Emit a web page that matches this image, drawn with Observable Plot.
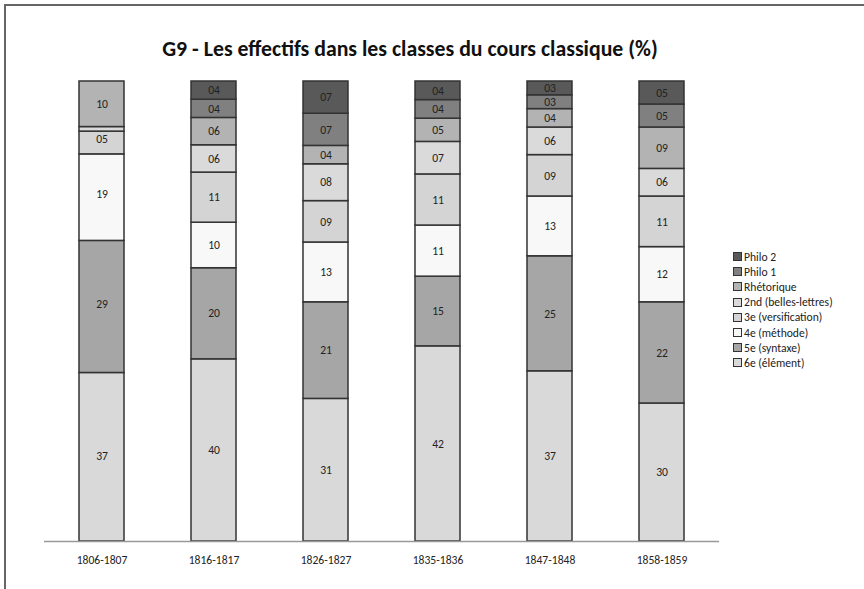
<!DOCTYPE html>
<html>
<head>
<meta charset="utf-8">
<script src="https://cdn.jsdelivr.net/npm/d3@7"></script>
<script src="https://cdn.jsdelivr.net/npm/@observablehq/plot@0.6"></script>
<style>
  html, body { margin: 0; padding: 0; background: #fff; }
  #wrap { position: relative; width: 864px; height: 589px; overflow: hidden; font-family: Carlito, Calibri, "Liberation Sans Narrow", Lato, sans-serif; }
  #frame { position: absolute; left: 4px; top: 4px; right: -10px; bottom: -10px; border-left: 2px solid #666; border-top: 2px solid #666; }
  #title { position: absolute; left: 0; width: 820px; top: 35px; text-align: center; font-weight: bold; font-size: 21.8px; color: #111; }
  #chart { position: absolute; left: 0; top: 0; }
  #legend { position: absolute; left: 733px; top: 249px; font-size: 11.6px; color: #222; }
  .item { height: 15.2px; display: flex; align-items: center; }
  .sw { width: 7px; height: 7px; border: 1px solid #333; margin-right: 2px; }
</style>
</head>
<body>
<div id="wrap">
  <div id="frame"></div>
  <div id="title">G9 - Les effectifs dans les classes du cours classique (%)</div>
  <div id="chart"></div>
  <div id="legend"></div>
</div>
<script>
const years = ["1806-1807", "1816-1817", "1826-1827", "1835-1836", "1847-1848", "1858-1859"];
const classes = ["6e (élément)", "5e (syntaxe)", "4e (méthode)", "3e (versification)", "2nd (belles-lettres)", "Rhétorique", "Philo 1", "Philo 2"];
const colors = ["#d9d9d9", "#a6a6a6", "#f8f8f8", "#d4d4d4", "#dadada", "#b3b3b3", "#808080", "#595959"];

const v6e     = [37, 40, 31, 42, 37, 30];
const v5e     = [29, 20, 21, 15, 25, 22];
const v4e     = [19, 10, 13, 11, 13, 12];
const v3e     = [5, 11, 9, 11, 9, 11];
const v2nd    = [1, 6, 8, 7, 6, 6];
const vRhet   = [10, 6, 4, 5, 4, 9];
const vPhilo1 = [0, 4, 7, 4, 3, 5];
const vPhilo2 = [0, 4, 7, 4, 3, 5];

const series = [v6e, v5e, v4e, v3e, v2nd, vRhet, vPhilo1, vPhilo2];
const data = [];
classes.forEach((c, i) => {
  years.forEach((y, j) => {
    if (series[i][j] > 0) data.push({year: y, cls: c, value: series[i][j]});
  });
});

const fmt = d3.format("02d");
const font = 'Carlito, Calibri, "Liberation Sans Narrow", Lato, sans-serif';

const plot = Plot.plot({
  width: 864,
  height: 589,
  marginLeft: 44,
  marginRight: 145,
  marginTop: 81,
  marginBottom: 48,
  style: {fontFamily: font, fontSize: "11.6px", color: "#222", background: "transparent"},
  x: {domain: years, paddingInner: 0.595, paddingOuter: 0.2975, label: null, tickSize: 0, tickPadding: 14},
  y: {axis: null, domain: [0, 1]},
  color: {domain: classes, range: colors},
  marks: [
    Plot.barY(data, Plot.stackY({
      x: "year", y: "value", z: "cls", fill: "cls", order: classes, offset: "normalize",
      stroke: "#333", strokeWidth: 1.5
    })),
    Plot.text(data.filter(d => d.value >= 2), Plot.stackY({
      x: "year", y: "value", z: "cls", order: classes, offset: "normalize",
      text: d => fmt(d.value), fill: "#222", fontSize: 11.6
    })),
    Plot.ruleY([0], {stroke: "#999", strokeWidth: 1.5})
  ]
});
document.getElementById("chart").appendChild(plot);

const legend = document.getElementById("legend");
classes.slice().reverse().forEach((c) => {
  const i = classes.indexOf(c);
  const row = document.createElement("div");
  row.className = "item";
  const sw = document.createElement("div");
  sw.className = "sw";
  sw.style.background = colors[i];
  const t = document.createElement("span");
  t.textContent = c;
  row.appendChild(sw);
  row.appendChild(t);
  legend.appendChild(row);
});
</script>
</body>
</html>
